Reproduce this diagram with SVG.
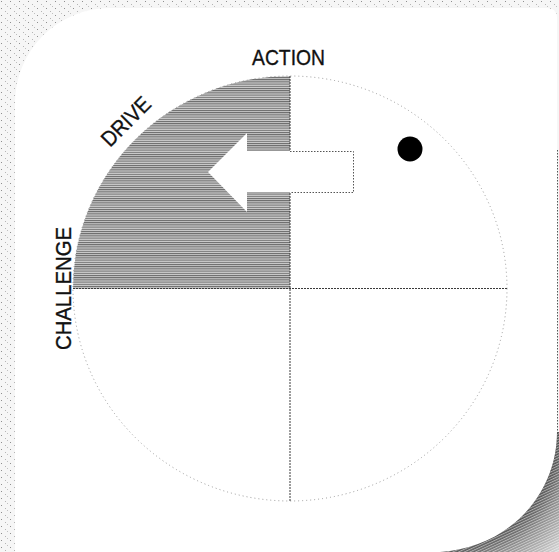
<svg xmlns="http://www.w3.org/2000/svg" width="559" height="552" viewBox="0 0 559 552">
  <defs>
    <pattern id="tex" width="9" height="7" patternUnits="userSpaceOnUse">
      <rect width="9" height="7" fill="#f6f6f6"/>
      <rect x="1" y="1" width="1" height="1" fill="#8f8f8f"/>
      <rect x="5" y="4" width="1" height="1" fill="#b5b5b5"/>
      <rect x="7" y="6" width="1" height="1" fill="#c0c0c0"/>
    </pattern>
    <pattern id="hatch" width="6" height="2.2" patternUnits="userSpaceOnUse">
      <rect width="6" height="2.2" fill="#d0d0d0"/>
      <rect width="6" height="1" fill="#666666"/>
    </pattern>
    <radialGradient id="shadowGrad" gradientUnits="userSpaceOnUse" cx="440" cy="430" r="175">
      <stop offset="0.63" stop-color="#333333"/>
      <stop offset="0.78" stop-color="#8a8a8a"/>
      <stop offset="1" stop-color="#e0e0e0"/>
    </radialGradient>
    <pattern id="shHatch" width="6" height="2.4" patternUnits="userSpaceOnUse" patternTransform="rotate(-25)">
      <rect width="6" height="1" fill="#ffffff" fill-opacity="0.5"/>
    </pattern>
  </defs>
  <style>
    .lbl { font-family: "Liberation Sans", Arial, Helvetica, sans-serif; font-size: 22px; fill: #111; stroke: #111; stroke-width: 0.35; }
    .div { stroke: #3a3a3a; stroke-width: 1; stroke-dasharray: 2 1; fill: none; }
    .rim { stroke: #9a9a9a; stroke-width: 1; stroke-dasharray: 1 3; fill: none; }
    .edge { stroke: #555; stroke-width: 1; stroke-dasharray: 1.5 1.5; fill: none; }
  </style>

  <g id="background">
    <rect width="559" height="552" fill="url(#tex)"/>
  </g>

  <g id="panel">
    <path d="M15,552 V103 A95,95 0 0 1 110,8 H547 Q557,8 557,18 V432 C557,495 508,548 440,552 Z" fill="#ffffff"/>
    <path d="M557,432 C557,495 508,548 440,552 H559 V432 Z" fill="url(#shadowGrad)"/>
    <path d="M557,432 C557,495 508,548 440,552 H559 V432 Z" fill="url(#shHatch)"/>
    <line x1="557.5" y1="150" x2="557.5" y2="434" class="edge"/>
  </g>

  <g id="wheel">
    <path id="quadrant-drive" d="M290,288.5 H73 A217,212.5 0 0 1 290,76 Z" fill="url(#hatch)"/>
    <ellipse cx="290" cy="288.5" rx="217" ry="212.5" class="rim"/>
    <g id="connectors">
      <line x1="290" y1="76" x2="290" y2="501" class="div"/>
      <line x1="73" y1="288.5" x2="507" y2="288.5" class="div"/>
    </g>
  </g>

  <g id="arrow">
    <polygon points="247,133 208,172 247,212 247,192 353,192 353,151 247,151" fill="#ffffff"/>
    <path d="M290,151.5 H353.5 V192.5 H290" class="edge"/>
  </g>

  <g id="dot">
    <circle cx="410" cy="149" r="12.5" fill="#000"/>
  </g>

  <g id="labels">
    <text class="lbl" x="252" y="65" textLength="73" lengthAdjust="spacingAndGlyphs">ACTION</text>
    <text class="lbl" transform="translate(110,148) rotate(-45)" textLength="60" lengthAdjust="spacingAndGlyphs">DRIVE</text>
    <text class="lbl" transform="translate(71,350) rotate(-90)" textLength="123" lengthAdjust="spacingAndGlyphs">CHALLENGE</text>
  </g>
</svg>
